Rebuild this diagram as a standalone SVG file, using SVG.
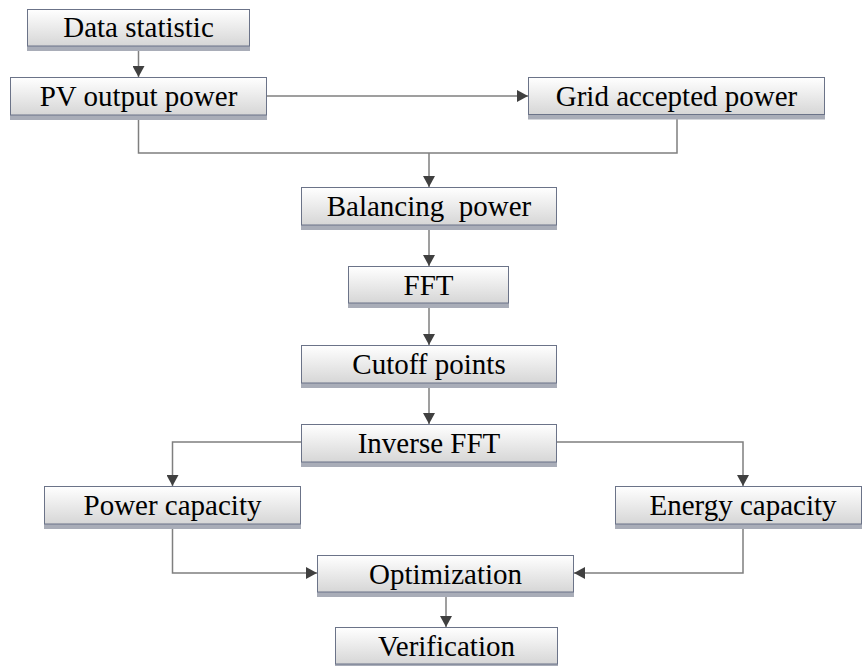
<svg xmlns="http://www.w3.org/2000/svg" width="865" height="666" viewBox="0 0 865 666">
  <defs>
    <linearGradient id="boxFill" x1="0" y1="0" x2="0" y2="1">
      <stop offset="0" stop-color="#ffffff"/>
      <stop offset="1" stop-color="#d6d6d6"/>
    </linearGradient>
    <marker id="arrow" markerUnits="userSpaceOnUse" viewBox="0 0 11 12" refX="11" refY="6" markerWidth="11" markerHeight="12" orient="auto">
      <path d="M0,0 L11,6 L0,12 z" fill="#404040"/>
    </marker>
    <style>
      .box { fill: url(#boxFill); stroke: #6b7388; stroke-width: 1; }
      .shadow { fill: #a9adb8; }
      .label { font-family: "Liberation Serif", "Times New Roman", serif; font-size: 29px; fill: #000; text-anchor: middle; white-space: pre; }
      .conn { fill: none; stroke: #7f7f7f; stroke-width: 1.5; }
      .arr { marker-end: url(#arrow); }
    </style>
  </defs>
  <rect width="865" height="666" fill="#ffffff"/>

  <!-- connectors -->
  <g id="connectors">
    <line class="conn arr" x1="138.5" y1="51" x2="138.5" y2="77"/>
    <line class="conn arr" x1="267" y1="96" x2="528" y2="96"/>
    <polyline class="conn" points="138.5,120 138.5,153 677,153 677,119"/>
    <line class="conn arr" x1="429" y1="153" x2="429" y2="187"/>
    <line class="conn arr" x1="429" y1="230" x2="429" y2="266"/>
    <line class="conn arr" x1="429" y1="308" x2="429" y2="345"/>
    <line class="conn arr" x1="429" y1="388" x2="429" y2="424"/>
    <polyline class="conn arr" points="301,442 172.5,442 172.5,486"/>
    <polyline class="conn arr" points="557,442 743,442 743,486"/>
    <polyline class="conn arr" points="172.5,529 172.5,573 317,573"/>
    <polyline class="conn arr" points="743,529 743,573 574,573"/>
    <line class="conn arr" x1="446" y1="597" x2="446" y2="627"/>
  </g>

  <g id="data-statistic">
    <rect class="shadow" x="27" y="46" width="223" height="5"/>
    <rect class="box" x="27.5" y="9.5" width="222" height="36.5"/>
    <text class="label" x="138.5" y="37">Data statistic</text>
  </g>

  <g id="pv-output-power">
    <rect class="shadow" x="10" y="115" width="257" height="5"/>
    <rect class="box" x="10.5" y="77.5" width="256" height="37.5"/>
    <text class="label" x="138.5" y="106">PV output power</text>
  </g>

  <g id="grid-accepted-power">
    <rect class="shadow" x="528" y="114.5" width="297" height="5"/>
    <rect class="box" x="528.5" y="77.5" width="296" height="37"/>
    <text class="label" x="676.5" y="106">Grid accepted power</text>
  </g>

  <g id="balancing-power">
    <rect class="shadow" x="301" y="225" width="256" height="5"/>
    <rect class="box" x="301.5" y="187.5" width="255" height="37.5"/>
    <text class="label" x="429" y="216">Balancing  power</text>
  </g>

  <g id="fft">
    <rect class="shadow" x="348" y="303" width="161" height="5"/>
    <rect class="box" x="348.5" y="266.5" width="160" height="36.5"/>
    <text class="label" x="428.5" y="295">FFT</text>
  </g>

  <g id="cutoff-points">
    <rect class="shadow" x="301" y="383" width="256" height="5"/>
    <rect class="box" x="301.5" y="345.5" width="255" height="37.5"/>
    <text class="label" x="429" y="374">Cutoff points</text>
  </g>

  <g id="inverse-fft">
    <rect class="shadow" x="301" y="462" width="256" height="5"/>
    <rect class="box" x="301.5" y="424.5" width="255" height="37.5"/>
    <text class="label" x="429" y="453">Inverse FFT</text>
  </g>

  <g id="power-capacity">
    <rect class="shadow" x="44" y="524" width="257" height="5"/>
    <rect class="box" x="44.5" y="486.5" width="256" height="37.5"/>
    <text class="label" x="172.5" y="515">Power capacity</text>
  </g>

  <g id="energy-capacity">
    <rect class="shadow" x="615" y="524" width="247" height="5"/>
    <rect class="box" x="615.5" y="486.5" width="246" height="37.5"/>
    <text class="label" x="743" y="515">Energy capacity</text>
  </g>

  <g id="optimization">
    <rect class="shadow" x="317" y="592" width="257" height="5"/>
    <rect class="box" x="317.5" y="555.5" width="256" height="36.5"/>
    <text class="label" x="445.5" y="584">Optimization</text>
  </g>

  <g id="verification">
    <rect class="shadow" x="335" y="664" width="223" height="2"/>
    <rect class="box" x="335.5" y="627.5" width="222" height="36.5"/>
    <text class="label" x="446.5" y="656">Verification</text>
  </g>
</svg>
